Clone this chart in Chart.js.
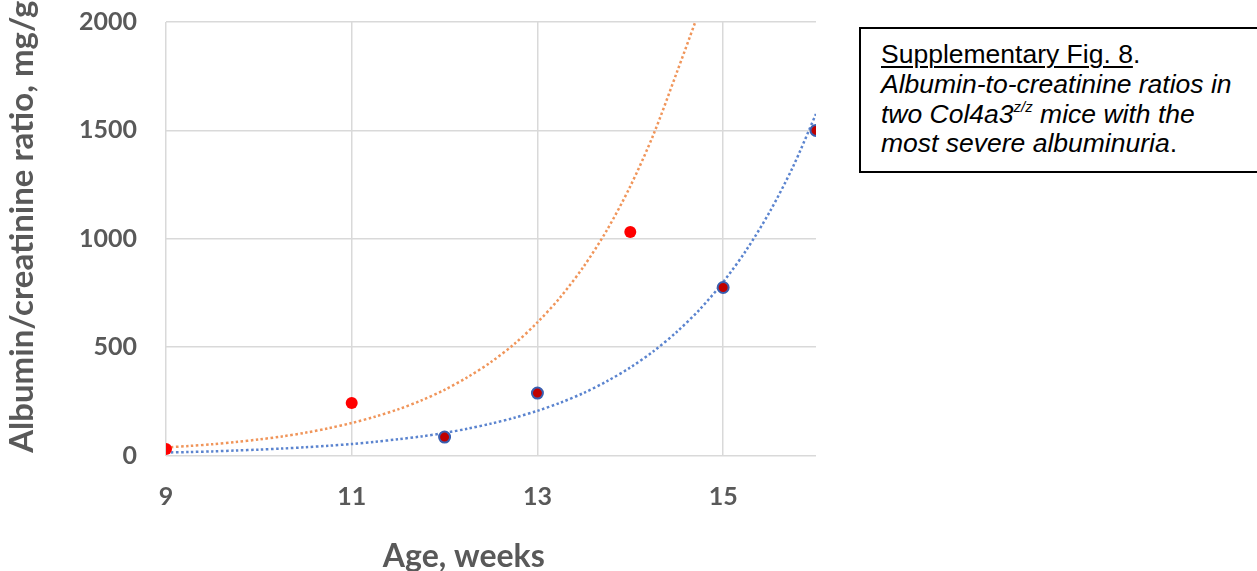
<!DOCTYPE html>
<html>
<head>
<meta charset="utf-8">
<script src="https://cdn.jsdelivr.net/npm/chart.js@4"></script>
<style>
  body { margin: 0; background: #fff; width: 1257px; height: 571px; overflow: hidden; position: relative; }
  #wrap { position: absolute; left: 0; top: 0; width: 840px; height: 571px; }
  .caption {
    position: absolute; left: 859px; top: 27px; width: 420px; height: 146px;
    box-sizing: border-box; border: 2px solid #000; padding: 11px 0 0 20px;
    font-family: "Liberation Sans", Arial, sans-serif; font-size: 26.5px; line-height: 29.8px; color: #000;
  }
  .caption u { text-decoration-thickness: 2px; text-underline-offset: 3px; }
  .caption sup { font-size: 15px; line-height: 0; vertical-align: 0; position: relative; top: -11px; }
</style>
</head>
<body>
<div id="wrap"><canvas id="myChart"></canvas></div>
<div class="caption">
  <u>Supplementary Fig. 8</u>.<br>
  <i>Albumin-to-creatinine ratios in<br>two Col4a3<sup>z/z</sup> mice with the<br>most severe albuminuria</i>.
</div>
<script>
// measured points, mouse 1 (red) and mouse 2 (dark red)
const weeksA = [9, 11, 14];
const acrA = [30, 242, 1031];
const weeksB = [12, 13, 15, 16];
const acrB = [85, 288, 775, 1500];

// dotted trendlines
const trendWeeksA = [9, 9.25, 9.5, 9.75, 10, 10.25, 10.5, 10.75, 11, 11.25, 11.5, 11.75, 12, 12.25, 12.5, 12.75, 13, 13.25, 13.5, 13.75, 14, 14.25, 14.5, 14.7];
const trendA = [37, 44, 52, 62, 74, 88, 105, 126, 150, 179, 213, 254, 303, 362, 431, 514, 614, 732, 873, 1041, 1242, 1481, 1766, 2000];
const trendWeeksB = [9, 9.25, 9.5, 9.75, 10, 10.25, 10.5, 10.75, 11, 11.25, 11.5, 11.75, 12, 12.25, 12.5, 12.75, 13, 13.25, 13.5, 13.75, 14, 14.25, 14.5, 14.75, 15, 15.25, 15.5, 15.75, 16];
const trendB = [14, 16, 19, 23, 27, 32, 38, 45, 53, 63, 75, 88, 104, 124, 147, 174, 206, 244, 289, 343, 406, 481, 570, 675, 800, 948, 1123, 1330, 1576];

const xTicks = [9, 11, 13, 15];
const yTicks = [0, 500, 1000, 1500, 2000];

const pts = (xs, ys) => xs.map((x, i) => ({ x: x, y: ys[i] }));
const grey = "#595959";
const tickFont = { family: "Lato", size: 25, weight: "bold" };

const ctx = document.getElementById("myChart").getContext("2d");
const chart = new Chart(ctx, {
  type: "scatter",
  data: {
    datasets: [
      {
        data: pts(weeksA, acrA),
        backgroundColor: "#FF0000",
        borderColor: "#FF0000",
        borderWidth: 0,
        pointRadius: 6,
        order: 0,
      },
      {
        data: pts(weeksB, acrB),
        backgroundColor: "#C00000",
        borderColor: "#3A5FB0",
        borderWidth: 2,
        pointRadius: 5.5,
        order: 0,
      },
      {
        data: pts(trendWeeksA, trendA),
        showLine: true,
        pointRadius: 0,
        borderColor: "#F0955A",
        borderWidth: 2.5,
        borderDash: [2.5, 2.5],
        tension: 0.3,
        order: 1,
      },
      {
        data: pts(trendWeeksB, trendB),
        showLine: true,
        pointRadius: 0,
        borderColor: "#5B84CF",
        borderWidth: 2.5,
        borderDash: [2.5, 2.5],
        tension: 0.3,
        order: 1,
      },
    ],
  },
  options: {
    responsive: true,
    maintainAspectRatio: false,
    animation: false,
    layout: { padding: { top: 22, right: 24, left: 0, bottom: 0 } },
    plugins: { legend: { display: false }, tooltip: { enabled: false } },
    scales: {
      x: {
        type: "linear",
        min: 9,
        max: 16,
        afterBuildTicks: (s) => { s.ticks = xTicks.map((v) => ({ value: v })); },
        afterFit: (s) => { s.height = 115.5; },
        grid: { color: "#D9D9D9", lineWidth: 1.5, drawTicks: false },
        border: { display: false },
        ticks: { padding: 26, color: grey, font: tickFont, callback: (v) => String(v) },
        title: {
          display: true,
          // trailing spaces nudge the centred title to the left like the original
          text: "Age, weeks       ",
          color: grey,
          padding: { top: 0, bottom: -2 },
          font: { family: "Lato", size: 32, weight: "bold", lineHeight: 1 },
        },
      },
      y: {
        min: 0,
        max: 2000,
        afterBuildTicks: (s) => { s.ticks = yTicks.map((v) => ({ value: v })); },
        afterFit: (s) => {
          s.width = 166;
          s.paddingTop = 0;
          s.paddingBottom = 0;
        },
        grid: { color: "#D9D9D9", lineWidth: 1.5, drawTicks: false },
        border: { display: false },
        ticks: { padding: 29, color: grey, font: tickFont, callback: (v) => String(v) },
        title: {
          display: true,
          text: "   Albumin/creatinine ratio, mg/g",
          color: grey,
          padding: { top: 6, bottom: 0 },
          font: { family: "Lato", size: 33, weight: "bold", lineHeight: 1 },
        },
      },
    },
  },
});
</script>
</body>
</html>
